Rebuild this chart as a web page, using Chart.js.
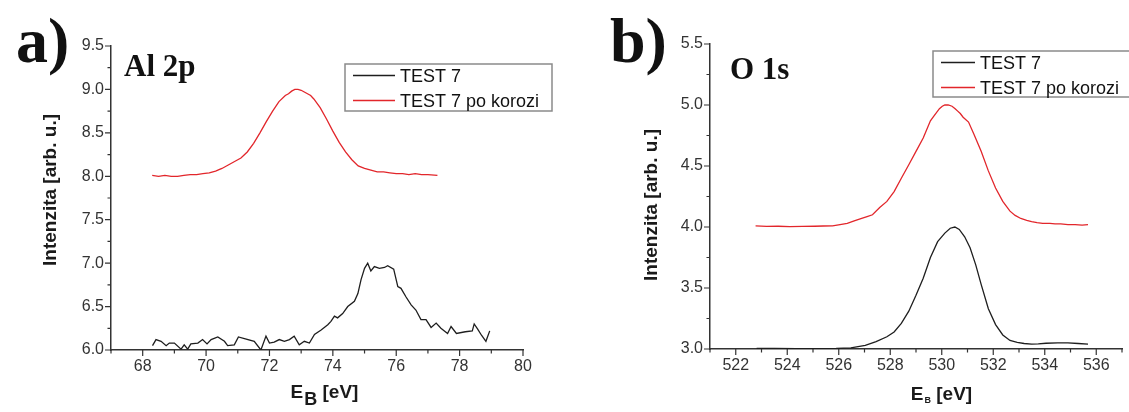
<!DOCTYPE html>
<html>
<head>
<meta charset="utf-8">
<script src="https://cdn.jsdelivr.net/npm/chart.js@4.4.1/dist/chart.umd.min.js"></script>
<style>
body { margin: 0; background: #fff; }
#wrap { position: relative; width: 1129px; height: 412px; overflow: hidden; }
canvas { position: absolute; top: 0; }
#al { left: 0; }
#ox { left: 560px; }
</style>
</head>
<body>
<div id="wrap">
<canvas id="al" width="560" height="412"></canvas>
<canvas id="ox" width="569" height="412"></canvas>
</div>
<script>
const seriesNames = ['TEST 7', 'TEST 7 po korozi'];

// a) Al 2p
const alTestE = [68.31,68.42,68.58,68.74,68.84,69.0,69.21,69.31,69.42,69.52,69.74,69.89,70.03,70.16,70.37,70.58,70.68,70.89,71.02,71.21,71.52,71.73,71.89,72.0,72.15,72.31,72.47,72.63,72.78,72.94,73.1,73.26,73.42,73.63,73.84,73.94,74.05,74.15,74.31,74.47,74.68,74.79,74.89,75.0,75.1,75.2,75.31,75.47,75.63,75.73,75.92,76.05,76.15,76.31,76.47,76.62,76.78,76.94,77.1,77.26,77.41,77.62,77.73,77.9,78.18,78.4,78.46,78.57,78.69,78.83,78.95];
const alTest = [6.05,6.12,6.10,6.05,6.08,6.08,6.01,6.06,6.01,6.07,6.08,6.12,6.07,6.12,6.15,6.10,6.05,6.06,6.15,6.13,6.10,6.00,6.16,6.08,6.09,6.12,6.10,6.12,6.16,6.06,6.10,6.08,6.18,6.23,6.29,6.33,6.39,6.37,6.42,6.50,6.56,6.65,6.81,6.94,7.00,6.91,6.96,6.94,6.95,6.97,6.93,6.73,6.71,6.61,6.52,6.46,6.35,6.35,6.26,6.31,6.25,6.19,6.27,6.19,6.21,6.22,6.30,6.24,6.17,6.10,6.22];
const alKorE = [68.3,68.5,68.7,68.9,69.1,69.3,69.5,69.7,69.9,70.1,70.3,70.5,70.7,70.9,71.1,71.3,71.5,71.7,71.9,72.1,72.3,72.5,72.6,72.7,72.8,72.9,73.0,73.1,73.2,73.3,73.4,73.6,73.8,74.0,74.2,74.4,74.6,74.8,75.0,75.2,75.4,75.6,75.8,76.0,76.2,76.4,76.6,76.8,77.0,77.3];
const alKor = [8.01,8.00,8.01,8.00,8.00,8.01,8.02,8.02,8.03,8.04,8.06,8.09,8.13,8.17,8.21,8.28,8.38,8.50,8.63,8.75,8.86,8.93,8.95,8.98,9.00,9.00,8.99,8.97,8.95,8.93,8.89,8.79,8.66,8.52,8.39,8.28,8.19,8.12,8.09,8.07,8.05,8.05,8.04,8.03,8.03,8.02,8.03,8.02,8.02,8.01];
const alXTicks = [68, 70, 72, 74, 76, 78, 80];
const alYTicks = [6.0, 6.5, 7.0, 7.5, 8.0, 8.5, 9.0, 9.5];

// b) O 1s
const oTestE = [522.81,523.5,524.36,525.1,525.9,526.47,527.03,527.45,527.87,528.15,528.43,528.72,529.0,529.28,529.56,529.84,530.12,530.33,530.51,530.68,530.89,531.1,531.32,531.53,531.81,532.09,532.37,532.65,532.93,533.2,533.49,533.75,534.05,534.5,534.9,535.3,535.68];
const oTest = [3.005,3.004,3.003,3.002,3.005,3.01,3.03,3.06,3.10,3.14,3.21,3.31,3.44,3.58,3.75,3.88,3.95,3.99,4.0,3.98,3.92,3.83,3.69,3.53,3.33,3.20,3.115,3.07,3.055,3.045,3.04,3.042,3.047,3.05,3.05,3.045,3.04];
const oKorE = [522.77,523.2,523.65,524.1,524.6,525.06,525.4,525.76,526.05,526.33,526.6,526.89,527.1,527.31,527.59,527.87,528.15,528.43,528.72,529.0,529.28,529.56,529.7,529.91,530.02,530.12,530.25,530.4,530.52,530.62,530.72,530.83,531.04,531.25,531.53,531.81,532.09,532.37,532.65,532.85,533.07,533.3,533.49,533.7,533.92,534.2,534.4,534.62,534.9,535.18,535.45,535.68];
const oKor = [4.01,4.005,4.006,4.003,4.005,4.006,4.008,4.01,4.02,4.03,4.05,4.07,4.085,4.10,4.16,4.21,4.29,4.40,4.51,4.62,4.73,4.87,4.91,4.97,4.99,5.0,5.0,4.99,4.97,4.95,4.93,4.90,4.86,4.76,4.62,4.46,4.32,4.21,4.13,4.095,4.07,4.055,4.045,4.035,4.03,4.03,4.025,4.025,4.02,4.02,4.015,4.02];
const oXTicks = [522, 524, 526, 528, 530, 532, 534, 536];
const oYTicks = [3.0, 3.5, 4.0, 4.5, 5.0, 5.5];

const SANS = '"Liberation Sans", Arial, sans-serif';
const SERIF = '"Liberation Serif", "Times New Roman", serif';

function pts(xs, ys) {
    return xs.map((x, i) => ({ x: x, y: ys[i] }));
}

function hasTick(list, v) {
    return list.some(t => Math.abs(t - v) < 1e-6);
}

// ticks, titles, panel letters and the legend box
const decor = {
    id: 'decor',
    afterDraw(chart, args, o) {
        const ctx = chart.ctx;
        const xs = chart.scales.x, ys = chart.scales.y;
        ctx.save();

        ctx.strokeStyle = '#333';
        ctx.lineWidth = 1.2;
        ctx.beginPath();
        xs.ticks.forEach(t => {
            const px = xs.getPixelForValue(t.value);
            const len = t.label !== '' ? 6 : 3.5;
            ctx.moveTo(px, xs.top);
            ctx.lineTo(px, xs.top + len);
        });
        ys.ticks.forEach(t => {
            const py = ys.getPixelForValue(t.value);
            const len = t.label !== '' ? 6 : 3.5;
            ctx.moveTo(ys.right, py);
            ctx.lineTo(ys.right - len, py);
        });
        ctx.stroke();

        ctx.fillStyle = '#1a1a1a';
        ctx.textAlign = 'left';
        ctx.textBaseline = 'alphabetic';

        // y title
        ctx.save();
        ctx.translate(o.yTitle[0], o.yTitle[1]);
        ctx.rotate(-Math.PI / 2);
        ctx.font = 'bold 19px ' + SANS;
        ctx.textAlign = 'center';
        ctx.textBaseline = 'middle';
        ctx.fillText('Intenzita [arb. u.]', 0, 0);
        ctx.restore();

        // x title with subscript
        const big = 'bold 19px ' + SANS;
        const small = 'bold ' + o.subSize + 'px ' + SANS;
        ctx.font = big;
        const wE = ctx.measureText('E').width;
        const wRest = ctx.measureText(' [eV]').width;
        ctx.font = small;
        const wB = ctx.measureText('B').width;
        let x0 = o.xTitle[0] - (wE + wB + wRest) / 2;
        const by = o.xTitle[1];
        ctx.font = big;
        ctx.fillText('E', x0, by);
        ctx.font = small;
        ctx.fillText('B', x0 + wE + 1, by + o.subDrop);
        ctx.font = big;
        ctx.fillText(' [eV]', x0 + wE + wB + 1, by);

        // panel letter and element label
        ctx.fillStyle = '#111';
        ctx.font = 'bold 64px ' + SERIF;
        ctx.fillText(o.letter, o.letterPos[0], o.letterPos[1]);
        ctx.font = 'bold 31px ' + SERIF;
        ctx.fillText(o.element, o.elementPos[0], o.elementPos[1]);

        // legend
        const L = o.legend;
        ctx.strokeStyle = '#8a8a8a';
        ctx.lineWidth = 1.5;
        ctx.strokeRect(L.x, L.y, L.w, L.h);
        ctx.font = '18px ' + SANS;
        chart.data.datasets.forEach((ds, i) => {
            const ry = L.y + 11.5 + i * 25;
            ctx.strokeStyle = ds.borderColor;
            ctx.lineWidth = 1.3;
            ctx.beginPath();
            ctx.moveTo(L.x + 8, ry);
            ctx.lineTo(L.x + L.lineEnd, ry);
            ctx.stroke();
            ctx.fillStyle = '#111';
            ctx.fillText(ds.label, L.x + L.lineEnd + 5, ry + 6.5);
        });

        ctx.restore();
    }
};

function axis(min, max, step, labels, digits, fitFn) {
    return {
        type: 'linear',
        min: min,
        max: max,
        ticks: {
            stepSize: step,
            autoSkip: false,
            maxRotation: 0,
            padding: 7,
            color: '#333',
            font: { family: SANS, size: 16 },
            callback: v => hasTick(labels, v) ? v.toFixed(digits) : ''
        },
        grid: { display: true, drawOnChartArea: false, drawTicks: false },
        border: { display: true, color: '#333', width: 1.5 },
        afterFit: fitFn
    };
}

function makeChart(id, test, kor, xAxis, yAxis, pad, deco) {
    return new Chart(document.getElementById(id), {
        type: 'scatter',
        data: {
            datasets: [
                { label: seriesNames[0], data: test, showLine: true, borderColor: '#1e1e1e', borderWidth: 1.3, pointRadius: 0, tension: 0 },
                { label: seriesNames[1], data: kor, showLine: true, borderColor: '#e2262b', borderWidth: 1.3, pointRadius: 0, tension: 0 }
            ]
        },
        options: {
            responsive: false,
            animation: false,
            layout: { padding: pad },
            scales: { x: xAxis, y: yAxis },
            plugins: {
                legend: { display: false },
                tooltip: { enabled: false },
                decor: deco
            }
        },
        plugins: [decor]
    });
}

makeChart('al', pts(alTestE, alTest), pts(alKorE, alKor),
    axis(67, 80, 1, alXTicks, 0, s => { s.height = 62; }),
    axis(6, 9.5, 0.25, alYTicks, 1, s => { s.width = 111; }),
    { left: 0, top: 46, right: 37, bottom: 0 },
    {
        yTitle: [51, 190], xTitle: [324, 398], subSize: 18, subDrop: 7,
        letter: 'a)', letterPos: [16, 62], element: 'Al 2p', elementPos: [124, 76],
        legend: { x: 345, y: 64, w: 207, h: 47, lineEnd: 50 }
    });

makeChart('ox', pts(oTestE, oTest), pts(oKorE, oKor),
    axis(521, 537, 1, oXTicks, 0, s => { s.height = 63; }),
    axis(3, 5.5, 0.25, oYTicks, 1, s => { s.width = 150; }),
    { left: 0, top: 44, right: 7, bottom: 0 },
    {
        yTitle: [92, 205], xTitle: [381, 400], subSize: 9, subDrop: 3,
        letter: 'b)', letterPos: [50, 62], element: 'O 1s', elementPos: [170, 79],
        legend: { x: 373, y: 51, w: 230, h: 46, lineEnd: 42 }
    });
</script>
</body>
</html>
